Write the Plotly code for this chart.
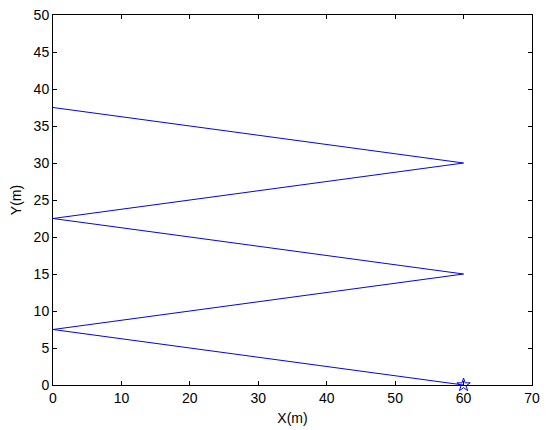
import plotly.graph_objects as go

x_path = [60, 0, 60, 0, 60, 0]
y_path = [0, 7.5, 15, 22.5, 30, 37.5]
start_x = [60]
start_y = [0]
x_ticks = list(range(0, 71, 10))
y_ticks = list(range(0, 51, 5))

FONT = "Liberation Sans, Arial"

fig = go.Figure()
fig.add_trace(go.Scatter(x=x_path, y=y_path, mode="lines",
                         line=dict(color="#0000ff", width=1), showlegend=False))
fig.add_trace(go.Scatter(x=start_x, y=start_y, mode="markers",
                         marker=dict(symbol="star-open", size=10, color="#0000ff",
                                     line=dict(width=1, color="#0000ff")),
                         showlegend=False, cliponaxis=False))

axis_common = dict(showgrid=False, zeroline=False, showline=True, linecolor="black",
                   linewidth=1, mirror="ticks", ticks="inside", ticklen=4,
                   tickcolor="black", automargin=False, ticklabeloverflow="allow",
                   tickfont=dict(family=FONT, size=14, color="black"))
fig.update_xaxes(range=[0, 70], tickvals=x_ticks,
                 title=dict(text="X(m)", font=dict(family=FONT, size=14, color="black"), standoff=8),
                 **axis_common)
fig.update_yaxes(range=[0, 50], tickvals=y_ticks,
                 title=dict(text="Y(m)", font=dict(family=FONT, size=14, color="black"), standoff=10),
                 **axis_common)
fig.update_layout(width=550, height=430, plot_bgcolor="white", paper_bgcolor="white",
                  margin=dict(l=45, r=26, t=7, b=53))
fig.write_html("out.html")
